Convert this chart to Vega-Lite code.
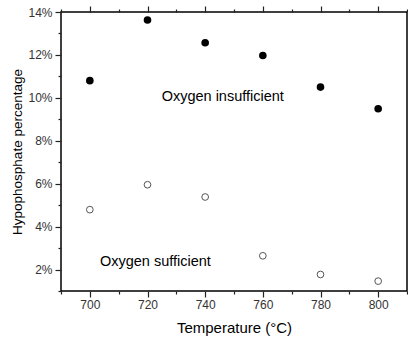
{
  "$schema": "https://vega.github.io/schema/vega-lite/v6.json",
  "autosize": {"type": "none"},
  "width": 346,
  "height": 279,
  "padding": {"left": 61, "top": 12, "right": 1, "bottom": 48},
  "background": "white",
  "config": {
    "view": {"stroke": "black", "strokeWidth": 1.5},
    "font": "Liberation Sans",
    "axis": {
      "domain": false,
      "grid": false,
      "tickColor": "#222",
      "tickWidth": 1.2,
      "labelFont": "Liberation Sans",
      "labelFontSize": 12,
      "labelColor": "#333",
      "titleFont": "Liberation Sans",
      "titleFontSize": 14,
      "titleFontWeight": "normal",
      "titleColor": "black"
    }
  },
  "datasets": {
    "points": [
      {"temp": 700, "pct": 0.108, "group": "insufficient"},
      {"temp": 720, "pct": 0.1363, "group": "insufficient"},
      {"temp": 740, "pct": 0.1257, "group": "insufficient"},
      {"temp": 760, "pct": 0.1197, "group": "insufficient"},
      {"temp": 780, "pct": 0.105, "group": "insufficient"},
      {"temp": 800, "pct": 0.0949, "group": "insufficient"},
      {"temp": 700, "pct": 0.0479, "group": "sufficient"},
      {"temp": 720, "pct": 0.0595, "group": "sufficient"},
      {"temp": 740, "pct": 0.0538, "group": "sufficient"},
      {"temp": 760, "pct": 0.0264, "group": "sufficient"},
      {"temp": 780, "pct": 0.0177, "group": "sufficient"},
      {"temp": 800, "pct": 0.0146, "group": "sufficient"}
    ],
    "labels": [
      {"temp": 724.9, "pct": 0.1003, "text": "Oxygen insufficient"},
      {"temp": 703.5, "pct": 0.0234, "text": "Oxygen sufficient"}
    ]
  },
  "resolve": {"axis": {"x": "independent", "y": "independent"}},
  "layer": [
    {
      "data": {"name": "points"},
      "transform": [{"filter": "datum.group === 'insufficient'"}],
      "mark": {"type": "point", "filled": true, "color": "black", "size": 58, "opacity": 1},
      "encoding": {
        "x": {"field": "temp", "type": "quantitative", "scale": {"domain": [690, 810], "nice": false, "zero": false},
          "axis": {"orient": "bottom", "title": "Temperature (°C)", "titleFontSize": 15, "values": [700, 720, 740, 760, 780, 800], "tickSize": 6, "labelPadding": 2, "titlePadding": 10}},
        "y": {"field": "pct", "type": "quantitative", "scale": {"domain": [0.01, 0.14], "nice": false, "zero": false},
          "axis": {"orient": "left", "title": "Hypophosphate percentage", "titleFontSize": 13.5, "values": [0.02, 0.04, 0.06, 0.08, 0.1, 0.12, 0.14], "format": ".0%", "tickSize": 6, "labelPadding": 3, "titlePadding": 3}}
      }
    },
    {
      "data": {"name": "points"},
      "transform": [{"filter": "datum.group === 'sufficient'"}],
      "mark": {"type": "point", "filled": false, "color": "#555", "size": 45, "strokeWidth": 1, "opacity": 1},
      "encoding": {
        "x": {"field": "temp", "type": "quantitative", "scale": {"domain": [690, 810], "nice": false, "zero": false},
          "axis": {"orient": "bottom", "title": null, "labels": false, "values": [690, 710, 730, 750, 770, 790, 810], "tickSize": 3}},
        "y": {"field": "pct", "type": "quantitative", "scale": {"domain": [0.01, 0.14], "nice": false, "zero": false},
          "axis": {"orient": "left", "title": null, "labels": false, "values": [0.01, 0.03, 0.05, 0.07, 0.09, 0.11, 0.13], "tickSize": 3}}
      }
    },
    {
      "data": {"name": "labels"},
      "transform": [{"filter": "datum.text === 'Oxygen insufficient'"}],
      "mark": {"type": "text", "align": "left", "baseline": "middle", "fontSize": 14.5, "font": "Liberation Sans", "color": "black"},
      "encoding": {
        "x": {"field": "temp", "type": "quantitative", "scale": {"domain": [690, 810], "nice": false, "zero": false},
          "axis": {"orient": "top", "title": null, "labels": false, "values": [700, 720, 740, 760, 780, 800], "tickSize": 6}},
        "y": {"field": "pct", "type": "quantitative", "scale": {"domain": [0.01, 0.14], "nice": false, "zero": false}, "axis": null},
        "text": {"field": "text"}
      }
    },
    {
      "data": {"name": "labels"},
      "transform": [{"filter": "datum.text === 'Oxygen sufficient'"}],
      "mark": {"type": "text", "align": "left", "baseline": "middle", "fontSize": 14.5, "font": "Liberation Sans", "color": "black"},
      "encoding": {
        "x": {"field": "temp", "type": "quantitative", "scale": {"domain": [690, 810], "nice": false, "zero": false},
          "axis": {"orient": "top", "title": null, "labels": false, "values": [690, 710, 730, 750, 770, 790, 810], "tickSize": 3}},
        "y": {"field": "pct", "type": "quantitative", "scale": {"domain": [0.01, 0.14], "nice": false, "zero": false}, "axis": null},
        "text": {"field": "text"}
      }
    }
  ]
}
